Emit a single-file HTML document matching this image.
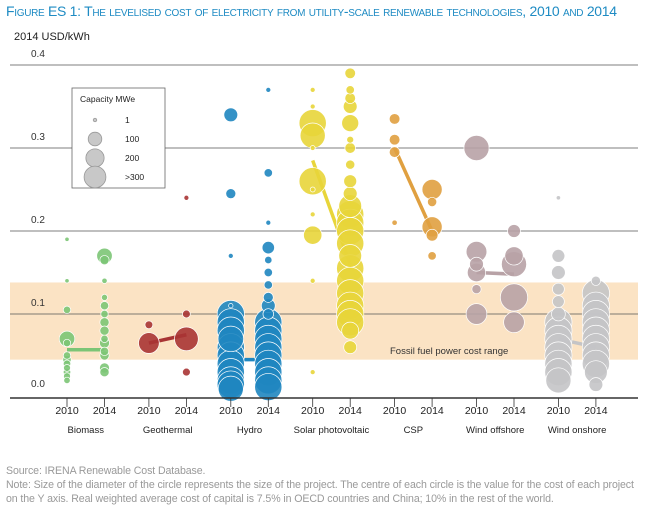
<!DOCTYPE html>
<html><head><meta charset="utf-8">
<style>
body{margin:0;background:#fff;font-family:"Liberation Sans",sans-serif;}
#wrap{position:relative;width:660px;height:512px;overflow:hidden;}
.t{position:absolute;white-space:nowrap;}
</style></head>
<body>
<div id="wrap">
<div class="t" style="left:6px;top:3px;font-size:14px;color:#1e8bc3;font-variant:small-caps;letter-spacing:-0.3px;">Figure ES 1: The levelised cost of electricity from utility-scale renewable technologies, 2010 and 2014</div>
<div class="t" style="left:14px;top:31px;font-size:11px;color:#222;">2014 USD/kWh</div>
<svg id="chart" width="660" height="460" style="position:absolute;left:0;top:0;"></svg>
<div class="t" style="left:6px;top:464px;font-size:10.6px;color:#999;line-height:14px;letter-spacing:-0.1px;">Source: IRENA Renewable Cost Database.<br>Note: Size of the diameter of the circle represents the size of the project. The centre of each circle is the value for the cost of each project<br>on the Y axis. Real weighted average cost of capital is 7.5% in OECD countries and China; 10% in the rest of the world.</div>
</div>
<script>
const techs=["Biomass","Geothermal","Hydro","Solar photovoltaic","CSP","Wind offshore","Wind onshore"];
const years=["2010","2014"];
const colors=["#7cc576","#a83434","#1f86c0","#e8d53a","#e0a040","#b8a2a6","#c4c4c6"];
const yTicks=[0.0,0.1,0.2,0.3,0.4];
const avg2010=[0.057,0.065,0.045,0.285,0.30,0.15,0.07];
const avg2014=[0.057,0.075,0.045,0.16,0.20,0.148,0.06];
// projects per group: [value, capacity MWe]
const biomass2010=[[0.19,1],[0.14,1],[0.105,10],[0.07,80],[0.065,10],[0.05,10],[0.045,15],[0.04,10],[0.035,8],[0.03,10],[0.025,8],[0.02,6]];
const biomass2014=[[0.17,80],[0.165,20],[0.14,3],[0.12,5],[0.11,15],[0.1,10],[0.09,20],[0.08,20],[0.07,10],[0.065,25],[0.055,15],[0.05,20],[0.035,25],[0.03,20]];
const geo2010=[[0.087,12],[0.065,160]];
const geo2014=[[0.24,2],[0.1,12],[0.07,220],[0.03,12]];
const hydro2010=[[0.34,60],[0.245,25],[0.17,2],[0.11,1],[0.1,300],[0.09,300],[0.08,300],[0.07,260],[0.06,300],[0.05,300],[0.04,300],[0.03,300],[0.02,300],[0.015,300],[0.01,250]];
const hydro2014=[[0.37,2],[0.27,15],[0.21,2],[0.18,45],[0.165,10],[0.15,15],[0.135,15],[0.12,25],[0.11,60],[0.1,30],[0.09,300],[0.08,300],[0.07,300],[0.06,300],[0.05,300],[0.04,300],[0.03,300],[0.02,300],[0.012,300]];
const solar2010=[[0.37,2],[0.35,2],[0.33,300],[0.315,250],[0.3,2],[0.26,300],[0.25,2],[0.22,2],[0.195,120],[0.14,2],[0.03,2]];
const solar2014=[[0.39,30],[0.37,15],[0.36,30],[0.35,60],[0.33,100],[0.31,8],[0.3,30],[0.28,20],[0.26,50],[0.245,60],[0.23,200],[0.22,300],[0.21,300],[0.2,300],[0.185,300],[0.17,200],[0.155,300],[0.14,300],[0.125,300],[0.11,300],[0.1,300],[0.09,300],[0.08,100],[0.06,50]];
const csp2010=[[0.335,30],[0.31,30],[0.295,30],[0.21,3]];
const csp2014=[[0.25,150],[0.235,20],[0.205,150],[0.195,40],[0.17,15]];
const off2010=[[0.3,250],[0.175,160],[0.16,60],[0.15,120],[0.13,20],[0.1,160]];
const off2014=[[0.2,50],[0.17,120],[0.16,250],[0.12,300],[0.09,160]];
const on2010=[[0.24,1],[0.17,50],[0.15,60],[0.13,40],[0.115,40],[0.1,60],[0.09,300],[0.08,300],[0.07,300],[0.06,300],[0.05,300],[0.04,300],[0.03,300],[0.02,250]];
const on2014=[[0.14,20],[0.125,300],[0.11,300],[0.1,300],[0.09,300],[0.08,300],[0.07,300],[0.06,300],[0.05,300],[0.04,300],[0.03,200],[0.015,60]];
const groups=[[biomass2010,biomass2014],[geo2010,geo2014],[hydro2010,hydro2014],[solar2010,solar2014],[csp2010,csp2014],[off2010,off2014],[on2010,on2014]];
const legendCaps=[1,100,200,300];
const legendLabels=["1","100","200",">300"];

const NS="http://www.w3.org/2000/svg";
const svg=document.getElementById('chart');
const y=v=>397-v*830;
const x=(g,i)=>67+g*81.9+i*37.5;
const r=c=>1.5+Math.sqrt(Math.min(c,300))*0.7;
function mk(tag,at,parent){const e=document.createElementNS(NS,tag);for(const k in at)e.setAttribute(k,at[k]);(parent||svg).appendChild(e);return e;}

let band=mk('rect',{x:10,y:y(0.138),width:628,height:y(0.045)-y(0.138),fill:'#fbe3c4'});


let bl=mk('text',{x:390,y:354,'font-size':9.5,fill:'#333'});bl.textContent='Fossil fuel power cost range';



yTicks.forEach(t=>{
  if(t>0){let l=mk('line',{x1:10,x2:638,y1:y(t),y2:y(t),stroke:'#555','stroke-width':0.8});
  
  }
  let tx=mk('text',{x:31,y:t>0?y(t)-8:y(t)-10,'font-size':10,fill:'#333'});tx.textContent=t.toFixed(1);
  
  
});

groups.forEach((g,gi)=>{
  let l=mk('line',{x1:x(gi,0),y1:y(avg2010[gi]),x2:x(gi,1),y2:y(avg2014[gi]),stroke:colors[gi],'stroke-width':3.5});
  
  
});
groups.forEach((g,gi)=>{g.forEach((pts,yi)=>{
  pts.slice().sort((a,b)=>b[1]-a[1]).forEach(p=>{
    let c=mk('circle',{cx:x(gi,yi),cy:y(p[0]),r:r(p[1]),fill:colors[gi],'fill-opacity':0.9,stroke:'#fff','stroke-width':0.7});
    
    
  });
});});

let ax=mk('line',{x1:10,x2:638,y1:398,y2:398,stroke:'#333','stroke-width':1.5});


techs.forEach((t,gi)=>{
  years.forEach((yr,yi)=>{
    mk('line',{x1:x(gi,yi),x2:x(gi,yi),y1:398,y2:407,stroke:'#333','stroke-width':0.8});
    let tx=mk('text',{x:x(gi,yi),y:414,'font-size':10.5,fill:'#222','text-anchor':'middle'});tx.textContent=yr;
    
    
  });
  let tn=mk('text',{x:(x(gi,0)+x(gi,1))/2,y:433,'font-size':9.5,fill:'#222','text-anchor':'middle'});tn.textContent=t;
  
  
});

let lg=mk('g',{});


mk('rect',{x:72,y:88,width:93,height:100,fill:'#fff',stroke:'#666','stroke-width':0.8},lg);
let lt=mk('text',{x:80,y:102,'font-size':8.5,fill:'#222'},lg);lt.textContent='Capacity MWe';
legendCaps.forEach((c,i)=>{
  const cy=120+i*19;
  mk('circle',{cx:95,cy:cy,r:r(c)*0.8,fill:'#c8c8c8',stroke:'#999','stroke-width':0.8},lg);
  let t=mk('text',{x:125,y:cy+3,'font-size':8.5,fill:'#222'},lg);t.textContent=legendLabels[i];
});
</script>
</body></html>
